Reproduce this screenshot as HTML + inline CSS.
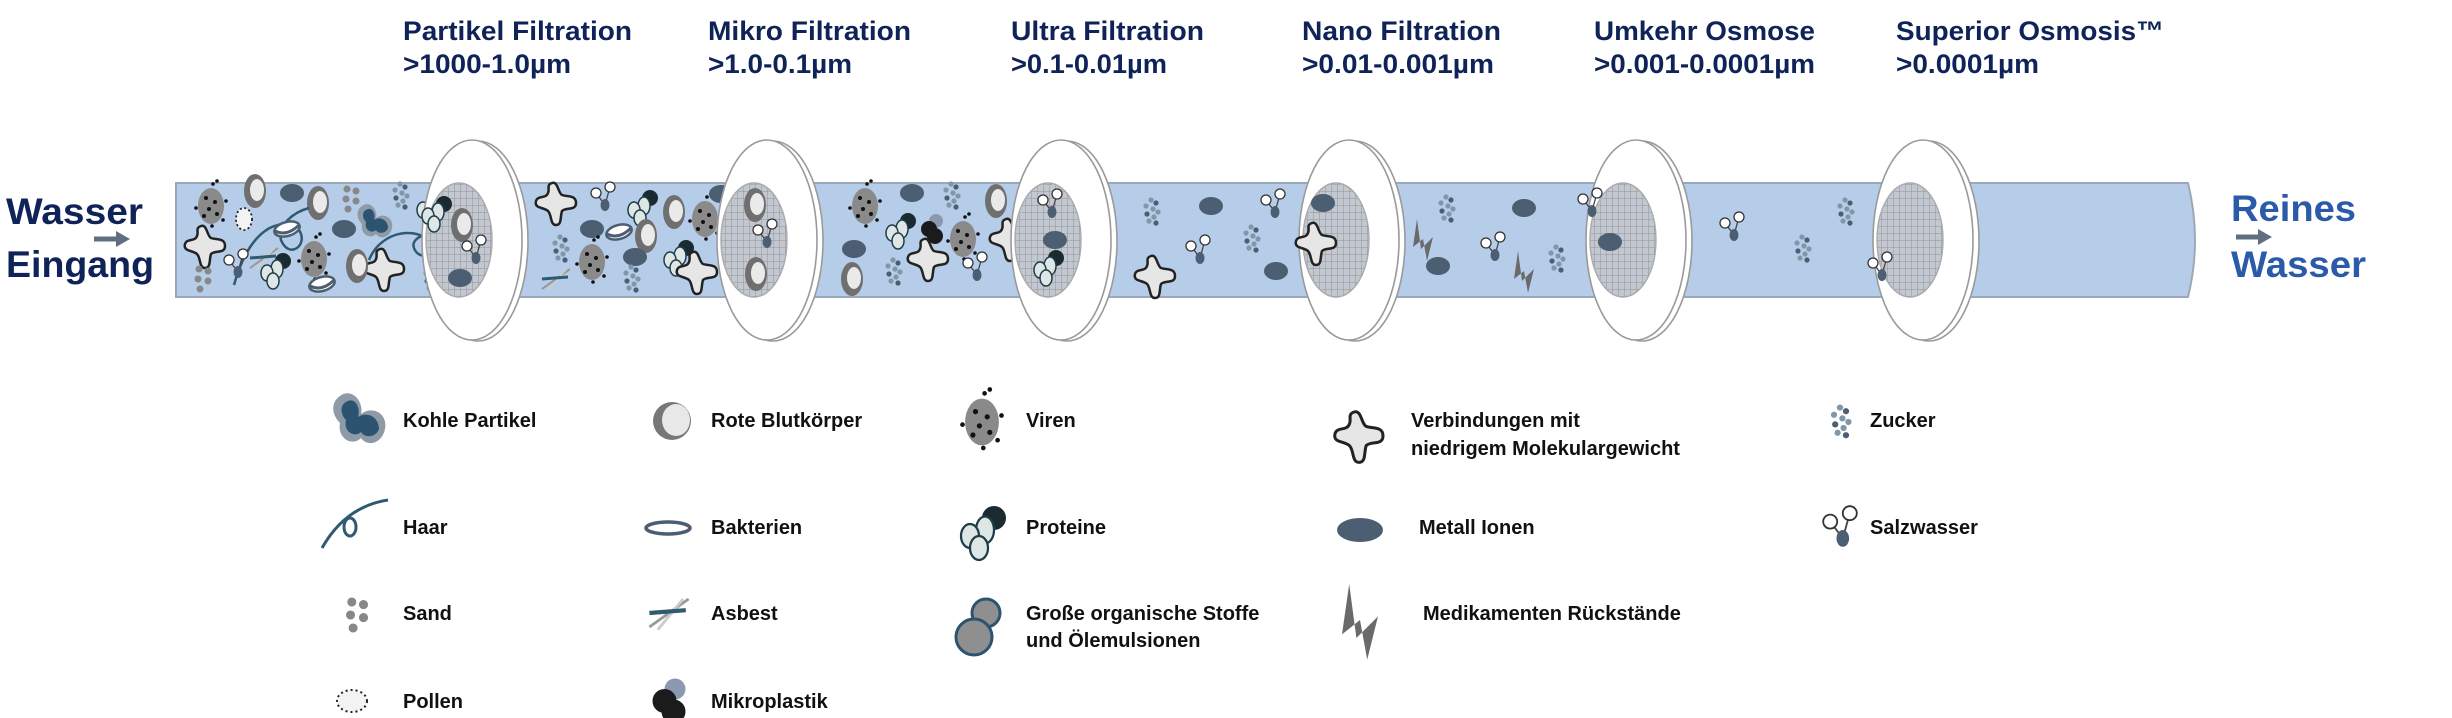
<!DOCTYPE html>
<html><head><meta charset="utf-8"><style>
html,body{margin:0;padding:0;background:#fff;width:2452px;height:718px;overflow:hidden}
svg{display:block}
.t{font-family:"Liberation Sans",sans-serif;font-weight:bold;fill:#0f2358;font-size:27px}
.l{font-family:"Liberation Sans",sans-serif;font-weight:bold;fill:#111;font-size:20px}
</style></head><body>
<svg width="2452" height="718" viewBox="0 0 2452 718" xmlns="http://www.w3.org/2000/svg">
<defs>
<pattern id="mesh" width="6" height="7" patternUnits="userSpaceOnUse">
<rect width="6" height="7" fill="#c3c7cf"/><path d="M0 0V7M0 0H6" stroke="#8d939c" stroke-width="1"/></pattern>
<g id="ion"><ellipse rx="12" ry="9" fill="#4b5e72"/></g>
<g id="sugar"><circle cx="0" cy="-12" r="2.6" fill="#7f97a6"/><circle cx="5" cy="-9" r="2.6" fill="#4b5e72"/><circle cx="-5" cy="-6" r="2.6" fill="#7f97a6"/><circle cx="2" cy="-3" r="2.6" fill="#7f97a6"/><circle cx="7" cy="0" r="2.6" fill="#7f97a6"/><circle cx="-4" cy="2" r="2.6" fill="#4b5e72"/><circle cx="3" cy="5" r="2.6" fill="#7f97a6"/><circle cx="-2" cy="9" r="2.6" fill="#7f97a6"/><circle cx="5" cy="11" r="2.6" fill="#4b5e72"/></g>
<g id="salt"><path d="M-7,-6 L2,6 L7,-12" stroke="#444" stroke-width="1.3" fill="none"/><circle cx="-7" cy="-6" r="5" fill="#fff" stroke="#333" stroke-width="1.3"/><circle cx="7" cy="-12" r="5" fill="#fff" stroke="#333" stroke-width="1.3"/><ellipse cx="2" cy="6" rx="4.5" ry="6" fill="#4b5e72"/></g>
<g id="star"><path d="M-4,-20 C2,-22 2,-10 6,-8 C12,-6 20,-8 20,0 C20,8 10,4 6,8 C4,14 6,22 0,22 C-6,22 -4,12 -8,8 C-12,4 -22,6 -20,-2 C-18,-8 -10,-4 -8,-10 C-6,-14 -10,-18 -4,-20Z" fill="#e6e6e6" stroke="#222" stroke-width="2.5"/></g>
<g id="virus"><ellipse rx="13" ry="18" fill="#8a8a8a"/><g fill="#111"><circle cx="-5" cy="-8" r="2"/><circle cx="4" cy="-4" r="2"/><circle cx="-2" cy="3" r="2"/><circle cx="6" cy="8" r="2"/><circle cx="-7" cy="10" r="2"/><circle cx="15" cy="-5" r="1.8"/><circle cx="-15" cy="2" r="1.8"/><circle cx="2" cy="-22" r="1.8"/><circle cx="6" cy="-25" r="1.8"/><circle cx="12" cy="14" r="1.8"/><circle cx="1" cy="20" r="1.8"/></g></g>
<g id="protein"><circle cx="8" cy="-8" r="8" fill="#1a2a30"/><ellipse cx="2" cy="0" rx="6" ry="9" fill="#dfe7e6" stroke="#1e3d48" stroke-width="1.5"/><ellipse cx="-8" cy="4" rx="6" ry="8" fill="#dfe7e6" stroke="#1e3d48" stroke-width="1.5"/><ellipse cx="-2" cy="12" rx="6" ry="8" fill="#dfe7e6" stroke="#1e3d48" stroke-width="1.5"/></g>
<g id="blood"><ellipse rx="11" ry="17" fill="#6f6f6f"/><ellipse cx="2" cy="-1" rx="7" ry="11" fill="#eaeaea"/></g>
<g id="bact"><ellipse rx="13" ry="7" fill="#fff" stroke="#4b5e72" stroke-width="2.5" transform="rotate(-15)"/><path d="M-12,2 Q0,8 12,-4" stroke="#4b5e72" stroke-width="3" fill="none"/></g>
<g id="drug"><path d="M-6,-20 L-2,10 L10,-2 L4,22 L0,0 L-10,8 Z" fill="#6a6a6a"/></g>
<g id="coal"><path d="M-14,-16 C-6,-22 2,-12 0,-4 C8,-10 18,-4 16,6 C14,16 4,18 0,12 C-6,18 -16,12 -14,2 C-20,-4 -20,-12 -14,-16Z" fill="#8e9aa6"/><path d="M-10,-12 C-4,-16 0,-8 -2,-2 C4,-6 12,-2 12,6 C10,12 2,12 0,8 C-4,12 -12,8 -10,0 C-14,-4 -14,-10 -10,-12Z" fill="#2c5470"/></g>
<g id="pollen"><ellipse rx="8" ry="11" fill="#f3f3f3" stroke="#222" stroke-width="1.8" stroke-dasharray="2 2.5"/></g>
<g id="micro"><circle cx="4" cy="-8" r="7" fill="#8a98b0"/><circle cx="-3" cy="0" r="8" fill="#1b1b1b"/><circle cx="3" cy="7" r="8" fill="#1b1b1b"/></g>
<g id="sand"><circle cx="-4" cy="-10" r="3.5" fill="#888"/><circle cx="5" cy="-8" r="3.5" fill="#888"/><circle cx="-5" cy="0" r="3.5" fill="#888"/><circle cx="5" cy="2" r="3.5" fill="#888"/><circle cx="-3" cy="10" r="3.5" fill="#888"/></g>
<g id="asb"><path d="M-14,10 L14,-10" stroke="#999" stroke-width="2"/><path d="M-8,12 L10,-10" stroke="#ccc" stroke-width="2"/><path d="M-14,0 L12,-2" stroke="#2f5a72" stroke-width="3"/></g>
<g id="ring"><ellipse cx="6" cy="1" rx="50" ry="100" fill="#fff" stroke="#9a9a9a" stroke-width="1.6"/><ellipse cx="0" cy="0" rx="50" ry="100" fill="#fff" stroke="#9a9a9a" stroke-width="1.6"/><ellipse cx="-13" cy="0" rx="33" ry="57" fill="url(#mesh)" stroke="#aaa" stroke-width="1.4"/></g>
</defs>

<!-- titles -->
<g class="t">
<text x="403" y="40" textLength="229" lengthAdjust="spacingAndGlyphs">Partikel Filtration</text>
<text x="403" y="73" textLength="168" lengthAdjust="spacingAndGlyphs">&gt;1000-1.0µm</text>
<text x="708" y="40" textLength="203" lengthAdjust="spacingAndGlyphs">Mikro Filtration</text>
<text x="708" y="73" textLength="144" lengthAdjust="spacingAndGlyphs">&gt;1.0-0.1µm</text>
<text x="1011" y="40" textLength="193" lengthAdjust="spacingAndGlyphs">Ultra Filtration</text>
<text x="1011" y="73" textLength="156" lengthAdjust="spacingAndGlyphs">&gt;0.1-0.01µm</text>
<text x="1302" y="40" textLength="199" lengthAdjust="spacingAndGlyphs">Nano Filtration</text>
<text x="1302" y="73" textLength="192" lengthAdjust="spacingAndGlyphs">&gt;0.01-0.001µm</text>
<text x="1594" y="40" textLength="221" lengthAdjust="spacingAndGlyphs">Umkehr Osmose</text>
<text x="1594" y="73" textLength="221" lengthAdjust="spacingAndGlyphs">&gt;0.001-0.0001µm</text>
<text x="1896" y="40" textLength="268" lengthAdjust="spacingAndGlyphs">Superior Osmosis™</text>
<text x="1896" y="73" textLength="143" lengthAdjust="spacingAndGlyphs">&gt;0.0001µm</text>
</g>

<!-- in/out labels -->
<text x="6" y="224" font-family="Liberation Sans" font-weight="bold" font-size="37" fill="#0f2358" textLength="137" lengthAdjust="spacingAndGlyphs">Wasser</text>
<text x="6" y="277" font-family="Liberation Sans" font-weight="bold" font-size="37" fill="#0f2358" textLength="148" lengthAdjust="spacingAndGlyphs">Eingang</text>
<path d="M94,239 H118" stroke="#5f6f80" stroke-width="5"/><path d="M116,231 L130,239 L116,247Z" fill="#5f6f80"/>
<text x="2231" y="221" font-family="Liberation Sans" font-weight="bold" font-size="37" fill="#2a5aa8" textLength="125" lengthAdjust="spacingAndGlyphs">Reines</text>
<text x="2231" y="277" font-family="Liberation Sans" font-weight="bold" font-size="37" fill="#2a5aa8" textLength="135" lengthAdjust="spacingAndGlyphs">Wasser</text>
<path d="M2236,237 H2260" stroke="#5f6f80" stroke-width="5"/><path d="M2258,229 L2272,237 L2258,245Z" fill="#5f6f80"/>

<!-- tube -->
<path d="M176,183 H2188 Q2202,240 2188,297 H176 Z" fill="#b6cdea" stroke="#9aa8b8" stroke-width="2"/>

<g transform="translate(9,0)">
<!-- seg 1 -->
<use href="#virus" x="202" y="206"/><use href="#blood" x="246" y="191"/><use href="#ion" x="283" y="193"/><use href="#blood" x="309" y="203"/>
<use href="#sand" x="342" y="199"/><use href="#sugar" x="391" y="196"/><use href="#coal" x="367" y="222"/><use href="#ion" x="335" y="229"/>
<use href="#star" x="196" y="246"/><use href="#pollen" x="235" y="219"/>
<path d="M225,285 C240,230 270,215 290,230 C300,245 280,260 272,240 C268,225 285,212 300,208" stroke="#2f5a72" stroke-width="2.5" fill="none"/>
<path d="M360,260 C370,235 400,225 420,240 C430,255 410,262 405,248 C400,235 430,228 452,235" stroke="#2f5a72" stroke-width="2.5" fill="none"/>
<use href="#virus" x="305" y="259"/><use href="#protein" x="266" y="269"/><use href="#bact" x="278" y="229"/><use href="#bact" x="313" y="284"/>
<use href="#star" x="375" y="269"/><use href="#blood" x="348" y="266"/><use href="#sugar" x="422" y="279"/><use href="#sand" x="194" y="279"/>
<use href="#salt" x="227" y="266"/><use href="#protein" x="422" y="206"/><use href="#asb" x="255" y="258"/>
<!-- seg 2 -->
<use href="#star" x="547" y="203"/><use href="#salt" x="594" y="199"/><use href="#protein" x="633" y="206"/><use href="#blood" x="665" y="212"/>
<use href="#virus" x="696" y="219"/><use href="#ion" x="712" y="194"/><use href="#blood" x="735" y="203"/><use href="#ion" x="583" y="229"/>
<use href="#bact" x="610" y="232"/><use href="#blood" x="637" y="236"/><use href="#sugar" x="551" y="249"/><use href="#virus" x="583" y="262"/>
<use href="#ion" x="626" y="257"/><use href="#protein" x="669" y="256"/><use href="#star" x="688" y="272"/><use href="#sugar" x="622" y="279"/>
<use href="#asb" x="547" y="279"/><use href="#bact" x="723" y="264"/><use href="#blood" x="747" y="277"/>
<!-- seg 3 -->
<use href="#virus" x="856" y="206"/><use href="#ion" x="903" y="193"/><use href="#sugar" x="942" y="196"/><use href="#blood" x="987" y="201"/>
<use href="#protein" x="891" y="229"/><use href="#micro" x="923" y="229"/><use href="#virus" x="954" y="239"/><use href="#star" x="1001" y="239"/>
<use href="#ion" x="845" y="249"/><use href="#star" x="919" y="259"/><use href="#sugar" x="884" y="272"/><use href="#blood" x="843" y="279"/>
<use href="#salt" x="966" y="269"/>
<!-- seg 4 -->
<use href="#sugar" x="1142" y="212"/><use href="#ion" x="1202" y="206"/><use href="#salt" x="1189" y="252"/><use href="#star" x="1146" y="276"/>
<use href="#salt" x="1264" y="206"/><use href="#sugar" x="1242" y="239"/><use href="#ion" x="1267" y="271"/>
<!-- seg 5 -->
<use href="#sugar" x="1437" y="209"/><use href="#ion" x="1515" y="208"/><use href="#drug" x="1414" y="239"/>
<use href="#salt" x="1484" y="249"/><use href="#ion" x="1429" y="266"/><use href="#drug" x="1515" y="271"/><use href="#sugar" x="1547" y="259"/>
<!-- seg 6 -->
<use href="#salt" x="1723" y="229"/><use href="#sugar" x="1836" y="212"/><use href="#sugar" x="1793" y="249"/>
</g>

<!-- rings -->
<use href="#ring" x="472" y="240"/>
<use href="#ring" x="767" y="240"/>
<use href="#ring" x="1061" y="240"/>
<use href="#ring" x="1349" y="240"/>
<use href="#ring" x="1636" y="240"/>
<use href="#ring" x="1923" y="240"/>
<!-- particles caught at mesh -->
<use href="#protein" x="436" y="212"/><use href="#blood" x="462" y="225"/><use href="#salt" x="474" y="252"/><use href="#ion" x="460" y="278"/>
<use href="#blood" x="755" y="205"/><use href="#salt" x="765" y="236"/><use href="#blood" x="756" y="274"/>
<use href="#salt" x="1050" y="206"/><use href="#ion" x="1055" y="240"/><use href="#protein" x="1048" y="266"/>
<use href="#ion" x="1323" y="203"/><use href="#star" x="1316" y="243"/>
<use href="#salt" x="1590" y="205"/><use href="#ion" x="1610" y="242"/>
<use href="#salt" x="1880" y="269"/>

<!-- legend icons -->
<g transform="translate(361,420) scale(1.5)"><use href="#coal"/></g>
<g><path d="M322,548 C335,525 355,505 388,500" stroke="#2f5a72" stroke-width="3" fill="none"/><ellipse cx="350" cy="527" rx="6" ry="9" stroke="#2f5a72" stroke-width="3" fill="none"/></g>
<g transform="translate(357,615) scale(1.3)"><use href="#sand"/></g>
<ellipse cx="352" cy="701" rx="15" ry="11" fill="#f3f3f3" stroke="#222" stroke-width="2" stroke-dasharray="2 3"/>
<ellipse cx="672" cy="421" rx="19" ry="19" fill="#777"/><ellipse cx="676" cy="420" rx="14" ry="16" fill="#e8e8e8"/>
<ellipse cx="668" cy="528" rx="22" ry="6" fill="#fff" stroke="#4b5e72" stroke-width="3.5"/>
<g transform="translate(669,613) scale(1.4)"><use href="#asb"/></g>
<g transform="translate(669,701) scale(1.5)"><use href="#micro"/></g>
<g transform="translate(982,422) scale(1.3)"><use href="#virus"/></g>
<g transform="translate(982,530) scale(1.5)"><use href="#protein"/></g>
<circle cx="986" cy="613" r="14" fill="#8f8f8f" stroke="#2c5470" stroke-width="3"/>
<circle cx="974" cy="637" r="18" fill="#8f8f8f" stroke="#2c5470" stroke-width="3"/>
<g transform="translate(1359,436) scale(1.2)"><use href="#star"/></g>
<ellipse cx="1360" cy="530" rx="23" ry="12" fill="#4b5e72"/>
<g transform="translate(1360,620) scale(1.8)"><use href="#drug"/></g>
<g transform="translate(1840,422) scale(1.2)"><use href="#sugar"/></g>
<g transform="translate(1840,530) scale(1.4)"><use href="#salt"/></g>

<g class="l">
<text x="403" y="427">Kohle Partikel</text>
<text x="403" y="534">Haar</text>
<text x="403" y="620">Sand</text>
<text x="403" y="708">Pollen</text>
<text x="711" y="427">Rote Blutkörper</text>
<text x="711" y="534">Bakterien</text>
<text x="711" y="620">Asbest</text>
<text x="711" y="708">Mikroplastik</text>
<text x="1026" y="427">Viren</text>
<text x="1026" y="534">Proteine</text>
<text x="1026" y="620">Große organische Stoffe</text>
<text x="1026" y="647">und Ölemulsionen</text>
<text x="1411" y="427">Verbindungen mit</text>
<text x="1411" y="455">niedrigem Molekulargewicht</text>
<text x="1419" y="534">Metall Ionen</text>
<text x="1423" y="620">Medikamenten Rückstände</text>
<text x="1870" y="427">Zucker</text>
<text x="1870" y="534">Salzwasser</text>
</g>
</svg>
</body></html>
